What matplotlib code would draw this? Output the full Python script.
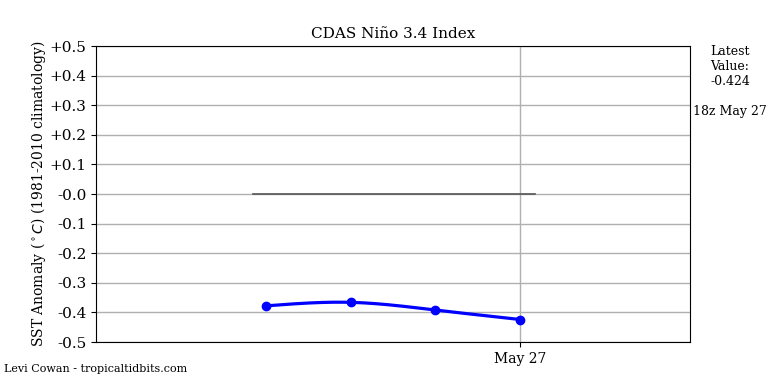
import numpy as np
import matplotlib
matplotlib.use("Agg")
import matplotlib.pyplot as plt

plt.rcParams['font.family'] = ['DejaVu Serif']

# Data
hours = [0, 1, 2, 3]          # 00z, 06z, 12z, 18z May 27 (6-hourly steps)
values = [-0.378, -0.366, -0.392, -0.424]
ytick_vals = [0.5, 0.4, 0.3, 0.2, 0.1, 0.0, -0.1, -0.2, -0.3, -0.4, -0.5]
ytick_labels = ['+0.5', '+0.4', '+0.3', '+0.2', '+0.1', '-0.0',
                '-0.1', '-0.2', '-0.3', '-0.4', '-0.5']
xtick_pos = [3]
xtick_labels = ['May 27']


def natural_spline(x, y, n=200):
    x = np.asarray(x, float); y = np.asarray(y, float)
    m = len(x); h = np.diff(x)
    A = np.zeros((m, m)); b = np.zeros(m)
    A[0, 0] = 1; A[-1, -1] = 1
    for i in range(1, m - 1):
        A[i, i - 1] = h[i - 1]; A[i, i] = 2 * (h[i - 1] + h[i]); A[i, i + 1] = h[i]
        b[i] = 3 * ((y[i + 1] - y[i]) / h[i] - (y[i] - y[i - 1]) / h[i - 1])
    c = np.linalg.solve(A, b)
    xs = np.linspace(x[0], x[-1], n); ys = np.empty_like(xs)
    for k, xv in enumerate(xs):
        i = min(np.searchsorted(x, xv, side='right') - 1, m - 2)
        dx = xv - x[i]
        bi = (y[i + 1] - y[i]) / h[i] - h[i] * (2 * c[i] + c[i + 1]) / 3
        di = (c[i + 1] - c[i]) / (3 * h[i])
        ys[k] = y[i] + bi * dx + c[i] * dx ** 2 + di * dx ** 3
    return xs, ys


fig = plt.figure(figsize=(7.68, 3.84), dpi=100)
ax = fig.add_axes([96 / 768, 1 - 342 / 384, (690 - 96) / 768, (342 - 46) / 384])

xs, ys = natural_spline(hours, values)
ax.plot(xs, ys, color='blue', lw=2.3, zorder=3)
ax.plot(hours, values, 'o', color='blue', ms=6, zorder=4)
ax.plot([hours[0] - 0.15, hours[-1] + 0.17], [0, 0], color='#555555', lw=1.2, zorder=2)

ax.set_xlim(-2, 5)
ax.set_ylim(-0.5, 0.5)
ax.set_yticks(ytick_vals)
ax.set_yticklabels(ytick_labels, fontsize=11)
ax.set_xticks(xtick_pos)
ax.set_xticklabels(xtick_labels, fontsize=10)
ax.grid(True, color='#b0b0b0', lw=1)
ax.set_axisbelow(True)
ax.set_ylabel(r'SST Anomaly ($^\circ C$) (1981-2010 climatology)', fontsize=10, labelpad=1)
ax.set_title('CDAS Niño 3.4 Index', fontsize=11)

fig.text(730 / 768, 1 - 45 / 384, 'Latest\nValue:\n' + f'{values[-1]:.3f}',
         ha='center', va='top', fontsize=9)
fig.text(730 / 768, 1 - 111 / 384, '18z May 27', ha='center', va='center', fontsize=9)
fig.text(4 / 768, 1 - 369 / 384, 'Levi Cowan - tropicaltidbits.com',
         ha='left', va='center', fontsize=8)

fig.savefig('out.png', dpi=100)
